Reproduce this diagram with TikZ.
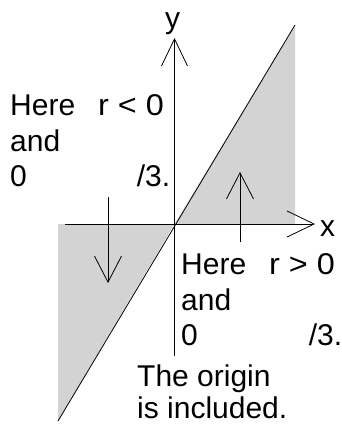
\documentclass[tikz,border=0pt]{standalone}
\usepackage{fontspec}
\setmainfont{Liberation Sans}
\usetikzlibrary{arrows.meta}

\definecolor{polarShade}{RGB}{211,211,211}
\definecolor{polarInk}{RGB}{0,0,0}

\begin{document}
\begin{tikzpicture}[x=1pt,y=-1pt,
      label/.style={font=\fontsize{30}{35.5}\selectfont, text=polarInk,
        inner sep=0pt, align=left, anchor=north west},
      axis/.style={draw=polarInk, line width=.8pt,
        -{Straight Barb[length=27pt,width=26pt,line width=.8pt]}},
      pointer/.style={draw=polarInk, line width=.8pt,
        -{Straight Barb[length=26pt,width=27pt,line width=.8pt]}},
      region/.style={fill=polarShade}]
      \useasboundingbox (0,0) rectangle (342,424);

      % Origin and the ends of the ray theta = pi/3.
      \coordinate (origin) at (174.5,224);
      \coordinate (rayTop) at (295,25);
      \coordinate (rayBottom) at (58,421);

      % Shaded parts of the region.
      \path[region] (origin) -- (rayTop) -- (rayTop |- origin) -- cycle;
      \path[region] (origin) -- (rayBottom |- origin) -- (rayBottom) -- cycle;

      % Axes.
      \coordinate (xStart) at (65,224);
      \coordinate (xEnd) at (315,224);
      \coordinate (yStart) at (174.5,356);
      \coordinate (yEnd) at (174.5,38);
      \draw[axis] (xStart) -- (xEnd);
      \draw[axis] (yStart) -- (yEnd);
      \node[font=\fontsize{30}{34}\selectfont, anchor=west, inner sep=0pt]
        (xLabel) at (320,229) {x};
      \node[font=\fontsize{30}{34}\selectfont, anchor=base, inner sep=0pt]
        (yLabel) at (172.5,28) {y};

      % The line through the origin.
      \draw[polarInk, line width=.8pt] (rayBottom) -- (rayTop);

      % Direction of the points.
      \coordinate (downFrom) at (108,197);
      \coordinate (downTo) at (108,283);
      \coordinate (upFrom) at (240,242);
      \coordinate (upTo) at (240,172);
      \draw[pointer] (downFrom) -- (downTo);
      \draw[pointer] (upFrom) -- (upTo);

      % Notes.
      \node[label] (negNote) at (10,94.5)
        {Here\hspace{23pt}\scalebox{1.08}[1]{r < 0}\\and\\0\hspace{110pt}/3.};
      \node[label] (posNote) at (181,253.5)
        {Here\hspace{23pt}\scalebox{1.08}[1]{r > 0}\\and\\0\hspace{111pt}/3.};
      \node[label, font=\fontsize{30}{32}\selectfont, text depth=0pt]
        (originNote) at (137,365) {The origin\\is included.};
    \end{tikzpicture}
\end{document}
